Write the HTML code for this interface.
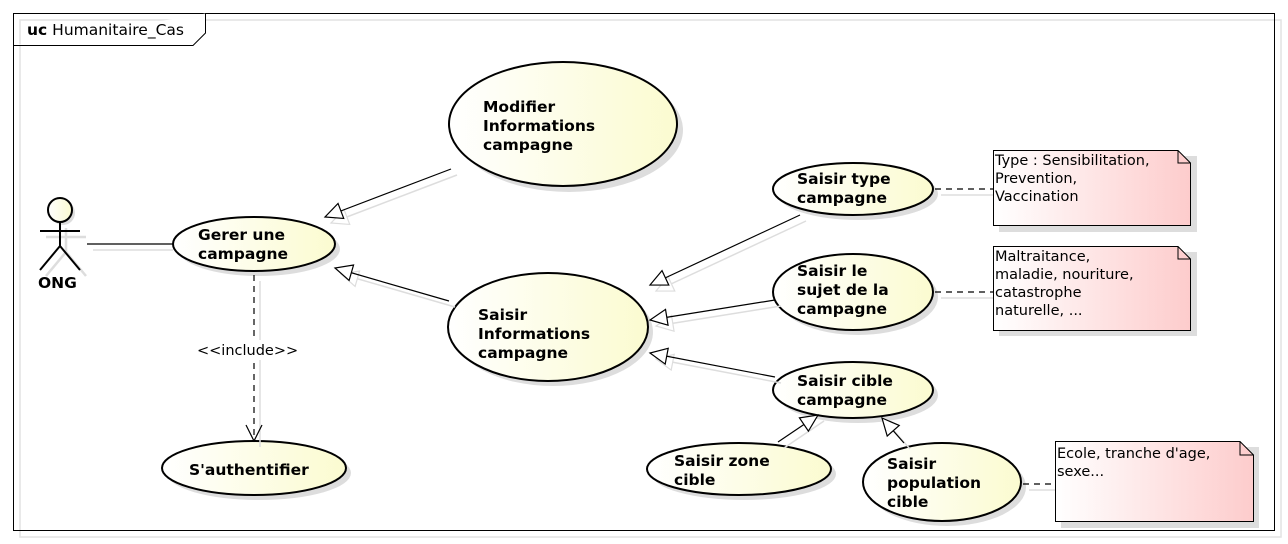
<!DOCTYPE html>
<html><head><meta charset="utf-8"><style>
html,body{margin:0;padding:0;background:#fff;}
svg{display:block;}
text{font-family:"DejaVu Sans","Liberation Sans",sans-serif;}
.b{font-weight:bold;font-size:15.5px;fill:#000;}
.n{font-size:14.5px;fill:#000;}
</style></head><body>
<svg width="1288" height="544" viewBox="0 0 1288 544" xmlns="http://www.w3.org/2000/svg">
<defs>
<linearGradient id="ug" x1="0" y1="0" x2="1" y2="0"><stop offset="0" stop-color="#ffffff"/><stop offset="1" stop-color="#fbfbd0"/></linearGradient>
<linearGradient id="ng" x1="0" y1="0" x2="1" y2="0"><stop offset="0" stop-color="#ffffff"/><stop offset="1" stop-color="#fdcccc"/></linearGradient>
<marker id="tri" viewBox="0 0 20 20" refX="18" refY="10" markerWidth="20" markerHeight="20" markerUnits="userSpaceOnUse" orient="auto"><path d="M1,2 L18,10 L1,18 Z" fill="#fff" stroke="#000" stroke-width="1.2"/></marker>
<marker id="triS" viewBox="0 0 20 20" refX="18" refY="10" markerWidth="20" markerHeight="20" markerUnits="userSpaceOnUse" orient="auto"><path d="M1,2 L18,10 L1,18 Z" fill="#fff" stroke="#ddd" stroke-width="1.2"/></marker>
<marker id="open" viewBox="0 0 20 20" refX="18" refY="10" markerWidth="20" markerHeight="20" markerUnits="userSpaceOnUse" orient="auto"><path d="M2,2 L18,10 L2,18" fill="none" stroke="#000" stroke-width="1.2"/></marker>
</defs>
<!-- frame -->
<rect x="20" y="20" width="1261" height="517" fill="none" stroke="#e2e2e2" stroke-width="1.5"/>
<rect x="13.5" y="13.5" width="1261" height="517" fill="none" stroke="#000" stroke-width="1"/>
<path d="M13.5,45.5 H193 L205.5,33 V13.5" fill="#fff" stroke="#000" stroke-width="1"/>
<text x="27" y="35" font-size="15.5"><tspan font-weight="bold">uc</tspan> Humanitaire_Cas</text>

<!-- actor -->
<g stroke="#ddd" stroke-width="2.5" fill="none">
<line x1="66" y1="228" x2="66" y2="252"/><line x1="46" y1="237" x2="86" y2="237"/>
<line x1="66" y1="252" x2="46" y2="276"/><line x1="66" y1="252" x2="86" y2="276"/>
</g>
<circle cx="63" cy="213" r="12" fill="#ddd"/>
<g stroke="#000" stroke-width="2" fill="none">
<circle cx="60" cy="210" r="12" fill="url(#ug)"/>
<line x1="60" y1="222" x2="60" y2="246"/><line x1="40" y1="231" x2="80" y2="231"/>
<line x1="60" y1="246" x2="40" y2="270"/><line x1="60" y1="246" x2="80" y2="270"/>
</g>
<text x="38" y="288" class="b" font-size="16">ONG</text>

<!-- ellipses -->
<g fill="#ddd">
<ellipse cx="569" cy="130" rx="114" ry="62"/>
<ellipse cx="259" cy="249" rx="81" ry="27"/>
<ellipse cx="553" cy="332" rx="100" ry="54"/>
<ellipse cx="259" cy="473" rx="92" ry="27"/>
<ellipse cx="858" cy="194" rx="80" ry="26"/>
<ellipse cx="858" cy="297" rx="80" ry="38"/>
<ellipse cx="858" cy="395" rx="80" ry="28"/>
<ellipse cx="744" cy="474" rx="92" ry="26"/>
<ellipse cx="947" cy="487" rx="79" ry="39"/>
</g>
<g fill="url(#ug)" stroke="#000" stroke-width="2">
<ellipse cx="563" cy="124" rx="114" ry="62"/>
<ellipse cx="254" cy="244" rx="81" ry="27"/>
<ellipse cx="548" cy="327" rx="100" ry="54"/>
<ellipse cx="254" cy="468" rx="92" ry="27"/>
<ellipse cx="853" cy="189" rx="80" ry="26"/>
<ellipse cx="853" cy="292" rx="80" ry="38"/>
<ellipse cx="853" cy="390" rx="80" ry="28"/>
<ellipse cx="739" cy="469" rx="92" ry="26"/>
<ellipse cx="942" cy="482" rx="79" ry="39"/>
</g>

<!-- shadow lines -->
<g stroke="#ddd" stroke-width="1.5" fill="none">
<line x1="93" y1="250" x2="173" y2="250"/>
<line x1="457" y1="175" x2="331" y2="223" marker-end="url(#triS)"/>
<line x1="455" y1="307" x2="341" y2="274" marker-end="url(#triS)"/>
<line x1="260" y1="281" x2="260" y2="447"/>
<line x1="806" y1="221" x2="656" y2="291" marker-end="url(#triS)"/>
<line x1="781" y1="306" x2="656" y2="326" marker-end="url(#triS)"/>
<line x1="781" y1="383" x2="656" y2="359" marker-end="url(#triS)"/>
<line x1="784" y1="448" x2="824" y2="421"/>
<line x1="910" y1="449" x2="888" y2="424"/>
<line x1="941" y1="195" x2="993" y2="195"/>
<line x1="941" y1="298" x2="993" y2="298"/>
<line x1="1029" y1="490" x2="1055" y2="490"/>
</g>

<!-- connectors -->
<g stroke="#000" stroke-width="1.2" fill="none">
<line x1="87" y1="244" x2="173" y2="244"/>
<line x1="451" y1="169" x2="325" y2="217" marker-end="url(#tri)"/>
<line x1="449" y1="301" x2="335" y2="268" marker-end="url(#tri)"/>
<line x1="254" y1="275" x2="254" y2="441" stroke-dasharray="6,5" marker-end="url(#open)"/>
<line x1="800" y1="215" x2="650" y2="285" marker-end="url(#tri)"/>
<line x1="775" y1="300" x2="650" y2="320" marker-end="url(#tri)"/>
<line x1="775" y1="377" x2="650" y2="353" marker-end="url(#tri)"/>
<line x1="778" y1="442" x2="818" y2="415" marker-end="url(#tri)"/>
<line x1="904" y1="443" x2="882" y2="418" marker-end="url(#tri)"/>
<line x1="935" y1="189" x2="993" y2="189" stroke-dasharray="6,5"/>
<line x1="935" y1="292" x2="993" y2="292" stroke-dasharray="6,5"/>
<line x1="1023" y1="484" x2="1055" y2="484" stroke-dasharray="6,5"/>
</g>
<rect x="200" y="340" width="104" height="20" fill="#fff"/>
<text x="197" y="355" font-size="14.5" fill="#000">&lt;&lt;include&gt;&gt;</text>

<text class="b"><tspan x="483" y="112">Modifier</tspan><tspan x="483" y="131">Informations</tspan><tspan x="483" y="150">campagne</tspan></text>
<text class="b"><tspan x="198" y="240">Gerer une</tspan><tspan x="198" y="259">campagne</tspan></text>
<text class="b"><tspan x="478" y="320">Saisir</tspan><tspan x="478" y="339">Informations</tspan><tspan x="478" y="358">campagne</tspan></text>
<text class="b" x="189" y="475">S'authentifier</text>
<text class="b"><tspan x="797" y="184">Saisir type</tspan><tspan x="797" y="203">campagne</tspan></text>
<text class="b"><tspan x="797" y="276">Saisir le</tspan><tspan x="797" y="295">sujet de la</tspan><tspan x="797" y="314">campagne</tspan></text>
<text class="b"><tspan x="797" y="386">Saisir cible</tspan><tspan x="797" y="405">campagne</tspan></text>
<text class="b"><tspan x="674" y="466">Saisir zone</tspan><tspan x="674" y="485">cible</tspan></text>
<text class="b"><tspan x="887" y="469">Saisir</tspan><tspan x="887" y="488">population</tspan><tspan x="887" y="507">cible</tspan></text>

<!-- notes -->
<g fill="#ddd">
<rect x="999" y="156" width="198" height="76"/>
<rect x="999" y="252" width="198" height="84"/>
<rect x="1061" y="447" width="198" height="81"/>
</g>
<g fill="url(#ng)" stroke="#000" stroke-width="1">
<path d="M993.5,150.5 H1178 L1190.5,163 V225.5 H993.5 Z"/>
<path d="M993.5,246.5 H1178 L1190.5,259 V330.5 H993.5 Z"/>
<path d="M1055.5,441.5 H1240 L1253.5,455 V521.5 H1055.5 Z"/>
<path d="M1178,150.5 V163 H1190.5" fill="none"/>
<path d="M1178,246.5 V259 H1190.5" fill="none"/>
<path d="M1240,441.5 V455 H1253.5" fill="none"/>
</g>
<text class="n"><tspan x="995" y="165">Type : Sensibilitation,</tspan><tspan x="995" y="183">Prevention,</tspan><tspan x="995" y="201">Vaccination</tspan></text>
<text class="n"><tspan x="995" y="261">Maltraitance,</tspan><tspan x="995" y="279">maladie, nouriture,</tspan><tspan x="995" y="297">catastrophe</tspan><tspan x="995" y="315">naturelle, ...</tspan></text>
<text class="n"><tspan x="1057" y="458">Ecole, tranche d'age,</tspan><tspan x="1057" y="476">sexe...</tspan></text>
</svg>
</body></html>
